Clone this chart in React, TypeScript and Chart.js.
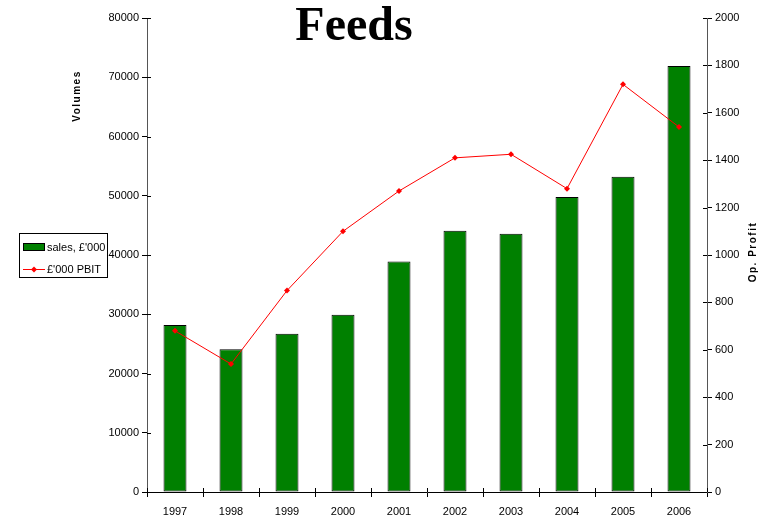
import React, { useEffect, useRef } from "react";
import { Chart, registerables } from "chart.js";

Chart.register(...registerables);

const years = ["1997", "1998", "1999", "2000", "2001", "2002", "2003", "2004", "2005", "2006"];
const sales = [28200, 24100, 26700, 29900, 38900, 44100, 43600, 49800, 53200, 71900];
const pbit = [680, 540, 850, 1100, 1270, 1410, 1425, 1280, 1720, 1540];
const salesLabel = "sales, £'000";
const pbitLabel = "£'000 PBIT";
const titleText = "Feeds";
const leftTitle = "Volumes";
const rightTitle = "Op. Profit";

const FONT = "'Liberation Sans', Arial, sans-serif";

const decorPlugin = {
  id: "decor",
  afterDraw(chart: any) {
    const ctx = chart.ctx;
    const area = chart.chartArea;
    const y = chart.scales.y;
    const y1 = chart.scales.y1;
    const x = chart.scales.x;
    ctx.save();
    ctx.strokeStyle = "#000";
    ctx.lineWidth = 1;
    // inner tick halves
    y.ticks.forEach((t: any) => {
      const py = Math.round(y.getPixelForValue(t.value)) + 0.5;
      ctx.beginPath();
      ctx.moveTo(area.left, py);
      ctx.lineTo(area.left + 4, py);
      ctx.stroke();
    });
    y1.ticks.forEach((t: any) => {
      const py = Math.round(y1.getPixelForValue(t.value)) + 0.5;
      ctx.beginPath();
      ctx.moveTo(area.right - 4, py);
      ctx.lineTo(area.right, py);
      ctx.stroke();
    });
    for (let i = 0; i <= years.length; i++) {
      const px = Math.round(x.getPixelForValue(i - 0.5)) + 0.5;
      ctx.beginPath();
      ctx.moveTo(px, area.bottom - 4);
      ctx.lineTo(px, area.bottom);
      ctx.stroke();
    }
    // title
    ctx.fillStyle = "#000";
    ctx.font = "bold 48px 'Liberation Serif', 'Times New Roman', serif";
    ctx.textAlign = "center";
    ctx.textBaseline = "alphabetic";
    ctx.fillText(titleText, 354, 40);
    // axis titles
    ctx.font = "bold 10px " + FONT;
    (ctx as any).letterSpacing = "1.5px";
    ctx.textBaseline = "middle";
    ctx.save();
    ctx.translate(77, 96);
    ctx.rotate(-Math.PI / 2);
    ctx.fillText(leftTitle, 0, 0);
    ctx.restore();
    ctx.save();
    ctx.translate(753, 252);
    ctx.rotate(-Math.PI / 2);
    ctx.fillText(rightTitle, 0, 0);
    ctx.restore();
    (ctx as any).letterSpacing = "0px";
    // legend
    const barDs = chart.data.datasets.find((d: any) => d.type === "bar");
    const lineDs = chart.data.datasets.find((d: any) => d.type === "line");
    const lx = 19.5, ly = 233.5, lw = 88, lh = 44;
    ctx.strokeStyle = "#000";
    ctx.strokeRect(lx, ly, lw, lh);
    ctx.fillStyle = barDs.backgroundColor;
    ctx.fillRect(23, 243, 22, 8);
    ctx.strokeStyle = "#000";
    ctx.strokeRect(23.5, 243.5, 21, 7);
    ctx.strokeStyle = lineDs.borderColor;
    ctx.beginPath();
    ctx.moveTo(23, 269.5);
    ctx.lineTo(45, 269.5);
    ctx.stroke();
    ctx.fillStyle = lineDs.borderColor;
    ctx.beginPath();
    ctx.moveTo(34, 266.5);
    ctx.lineTo(37, 269.5);
    ctx.lineTo(34, 272.5);
    ctx.lineTo(31, 269.5);
    ctx.closePath();
    ctx.fill();
    ctx.fillStyle = "#000";
    ctx.font = "11px " + FONT;
    ctx.textAlign = "left";
    ctx.textBaseline = "middle";
    ctx.fillText(barDs.label, 47, 248);
    ctx.fillText(lineDs.label, 47, 270);
    ctx.restore();
  },
};

export default function App() {
  const ref = useRef<HTMLCanvasElement>(null);
  useEffect(() => {
    if (!ref.current) return;
    const chart = new Chart(ref.current, {
      type: "bar",
      data: {
        labels: years,
        datasets: [
          {
            type: "line",
            label: pbitLabel,
            data: pbit,
            yAxisID: "y1",
            borderColor: "#ff0000",
            backgroundColor: "#ff0000",
            borderWidth: 1,
            pointStyle: "rectRot",
            pointRadius: 3,
            pointBorderWidth: 0,
            pointBackgroundColor: "#ff0000",
            tension: 0,
            order: 0,
          } as any,
          {
            type: "bar",
            label: salesLabel,
            data: sales,
            yAxisID: "y",
            backgroundColor: "#008000",
            borderColor: "#000",
            borderWidth: 1,
            borderSkipped: false,
            barPercentage: 0.41,
            categoryPercentage: 1,
            order: 1,
          } as any,
        ],
      },
      options: {
        animation: false,
        responsive: false,
        maintainAspectRatio: false,
        layout: { padding: { top: 18, left: 0, right: 0, bottom: 0 } },
        plugins: {
          legend: { display: false },
          title: { display: false },
          tooltip: { enabled: false },
        },
        scales: {
          x: {
            offset: true,
            afterFit: (s: any) => { s.height = 31; },
            grid: { display: true, drawOnChartArea: false, offset: true, tickLength: 5, color: "#000" },
            border: { display: true, color: "#000", width: 1 },
            ticks: { color: "#000", font: { family: FONT, size: 11 }, padding: 8, maxRotation: 0 },
          },
          y: {
            position: "left",
            min: 0,
            max: 80000,
            afterFit: (s: any) => { s.width = 147; },
            grid: { display: true, drawOnChartArea: false, tickLength: 5, color: "#000" },
            border: { display: true, color: "#555", width: 1 },
            ticks: { stepSize: 10000, color: "#000", font: { family: FONT, size: 11 }, padding: 3, callback: (v: any) => String(v) },
          },
          y1: {
            position: "right",
            min: 0,
            max: 2000,
            afterFit: (s: any) => { s.width = 64; },
            grid: { display: true, drawOnChartArea: false, tickLength: 5, color: "#000" },
            border: { display: true, color: "#555", width: 1 },
            ticks: { stepSize: 200, color: "#000", font: { family: FONT, size: 11 }, padding: 3, callback: (v: any) => String(v) },
          },
        },
      },
      plugins: [decorPlugin],
    } as any);
    return () => chart.destroy();
  }, []);
  return (
    <div style={{ position: "fixed", left: 0, top: 0, width: 771, height: 523, background: "#fff" }}>
      <canvas ref={ref} width={771} height={523} style={{ width: 771, height: 523 }} />
    </div>
  );
}
